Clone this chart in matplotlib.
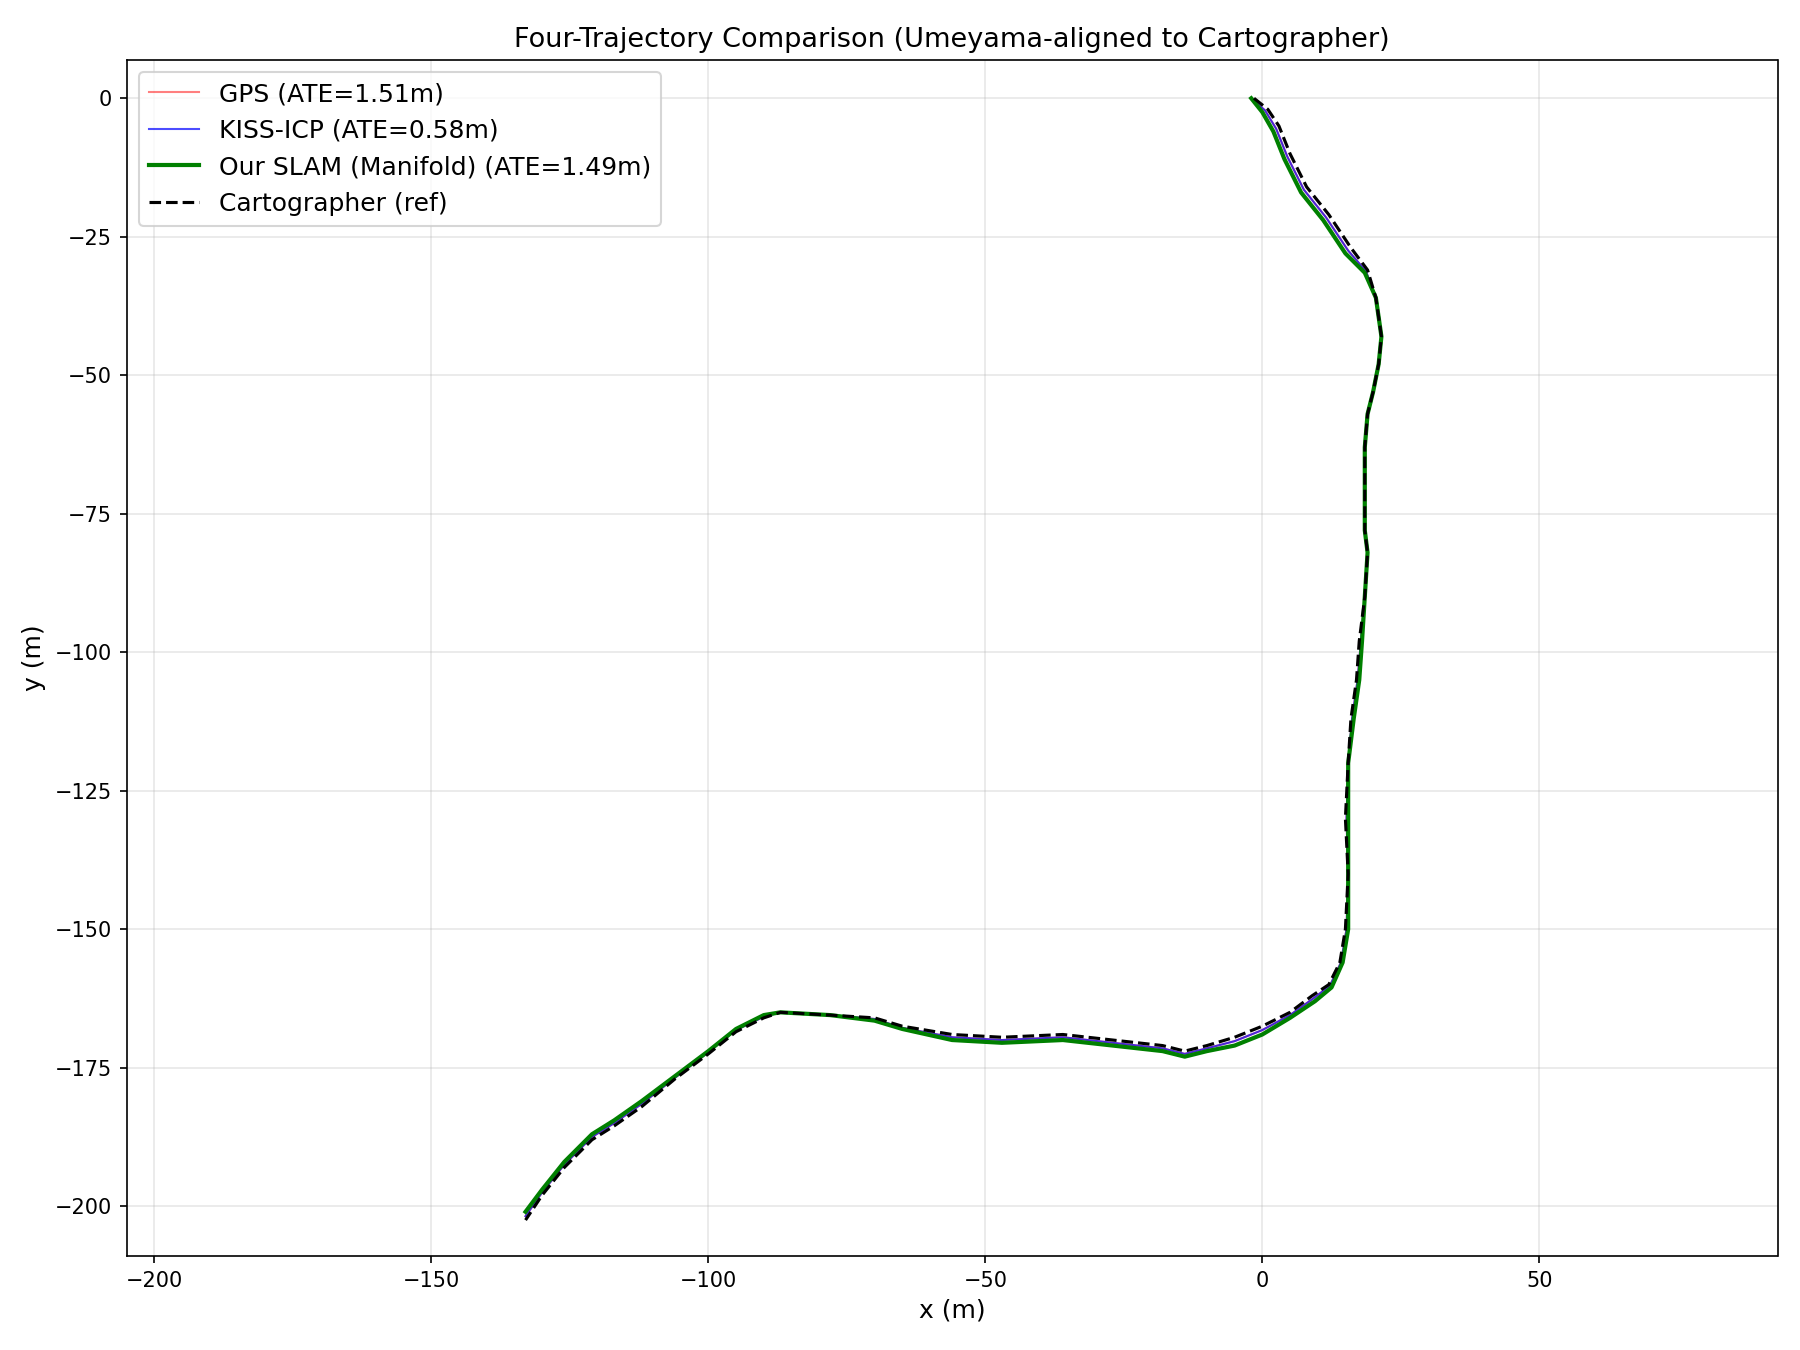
import matplotlib
matplotlib.use("Agg")
import matplotlib.pyplot as plt

ref_x = [-1.5,1,3,5,8,12,16,19,20.5,21.5,21,20,19,18.5,18.5,18.5,19,18.5,17.5,17,16,15.5,15,15.5,15,14,12,9,5,0,-5,-10,-14,-18,-27,-36,-47,-56,-65,-70,-78,-87,-90,-95,-100,-106,-112,-117,-121,-126,-130,-133]
ref_y = [0,-2,-5,-10,-16,-21,-27,-31,-36,-43,-48,-53,-57,-63,-70,-78,-82,-90,-98,-105,-112,-120,-130,-140,-150,-156,-160,-162,-165,-167.5,-169.5,-171,-172,-171,-170,-169,-169.5,-169,-167.5,-166,-165.5,-165,-166,-168.5,-172.5,-177,-182,-185.5,-188,-193,-198,-202.5]

slam_x = [-2,0,2,4,7,11,15,18.5,20.5,21.5,21,20,19,18.5,18.5,18.5,19,18.5,18,17.5,16.5,15.5,15.5,15.5,15.5,14.5,12.5,9.5,5,0,-5,-10,-14,-18,-27,-36,-47,-56,-65,-70,-78,-87,-90,-95,-100,-106,-112,-117,-121,-126,-130,-133]
slam_y = [0,-2.5,-6,-11,-17,-22,-28,-31.5,-36,-43,-48,-53,-57,-63,-70,-78,-82,-90,-98,-105,-112,-120,-130,-140,-150,-156,-160.5,-163,-166,-169,-171,-172,-173,-172,-171,-170,-170.5,-170,-168,-166.5,-165.5,-165,-165.5,-168,-172,-176.5,-181,-184.5,-187,-192,-197,-201]

kiss_x = [-2,0.5,2.5,4.5,7.5,11.5,15.5,18.7,20.5,21.5,21,20,19,18.5,18.5,18.5,19,18.5,17.8,17.2,16.2,15.5,15.2,15.5,15.2,14.2,12.2,9.2,5,0,-5,-10,-14,-18,-27,-36,-47,-56,-65,-70,-78,-87,-90,-95,-100,-106,-112,-117,-121,-126,-130,-133]
kiss_y = [0,-2.2,-5.5,-10.5,-16.5,-21.5,-27.5,-31.2,-36,-43,-48,-53,-57,-63,-70,-78,-82,-90,-98,-105,-112,-120,-130,-140,-150,-156,-160.2,-162.5,-165.5,-168.2,-170.2,-171.5,-172.5,-171.5,-170.5,-169.5,-170,-169.5,-167.8,-166.2,-165.5,-165,-165.8,-168.2,-172.2,-176.8,-181.5,-185,-187.5,-192.5,-197.5,-201.8]

gps_x = kiss_x
gps_y = kiss_y

fig, ax = plt.subplots(figsize=(12, 9), dpi=150)
ax.plot(gps_x, gps_y, color="red", alpha=0.5, lw=1, label="GPS (ATE=1.51m)")
ax.plot(kiss_x, kiss_y, color="blue", alpha=0.7, lw=1, label="KISS-ICP (ATE=0.58m)")
ax.plot(slam_x, slam_y, color="green", lw=2, label="Our SLAM (Manifold) (ATE=1.49m)")
ax.plot(ref_x, ref_y, "k--", lw=1.5, label="Cartographer (ref)")
ax.set_aspect("equal")
ax.set_xlim(-205, 93)
ax.set_ylim(-209, 7)
ax.set_xlabel("x (m)", fontsize=12)
ax.set_ylabel("y (m)", fontsize=12)
ax.set_title("Four-Trajectory Comparison (Umeyama-aligned to Cartographer)", fontsize=13)
ax.grid(True, alpha=0.3)
ax.legend(loc="upper left", fontsize=12)
fig.tight_layout()
fig.savefig("out.png")
